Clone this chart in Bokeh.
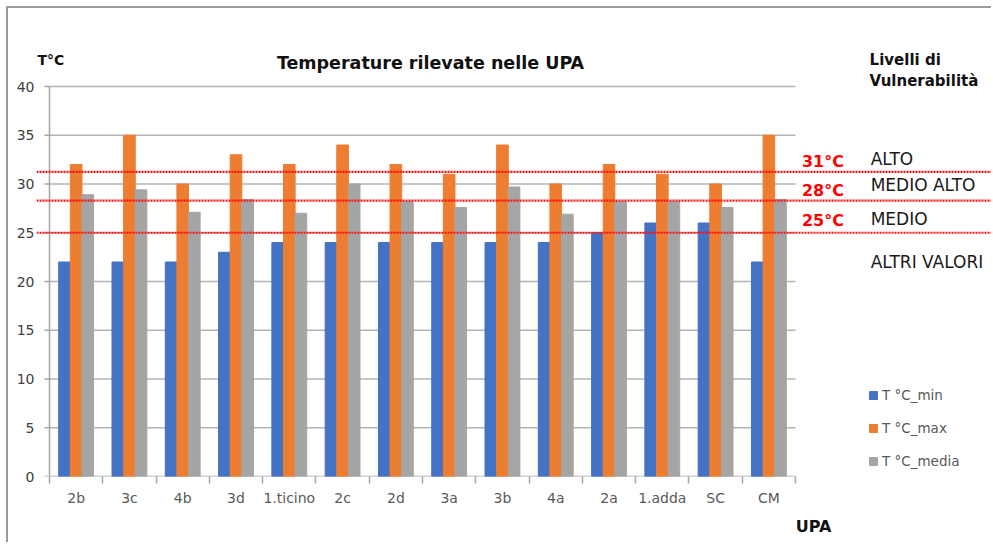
from bokeh.plotting import figure
from bokeh.models import (ColumnDataSource, Range1d, FixedTicker, Span, Label,
                          Legend, LegendItem, LinearAxis)
from bokeh.transform import dodge
from bokeh.embed import file_html
from bokeh.resources import INLINE

cats = ["2b", "3c", "4b", "3d", "1.ticino", "2c", "2d", "3a", "3b", "4a", "2a", "1.adda", "SC", "CM"]
t_min = [22, 22, 22, 23, 24, 24, 24, 24, 24, 24, 25, 26, 26, 22]
t_max = [32, 35, 30, 33, 32, 34, 32, 31, 34, 30, 32, 31, 30, 35]
t_media = [28.9, 29.4, 27.1, 28.4, 27.0, 30.0, 28.2, 27.6, 29.7, 26.9, 28.2, 28.2, 27.6, 28.4]
series_names = ["T °C_min", "T °C_max", "T °C_media"]
colors = ["#4472C4", "#ED7D31", "#A5A5A5"]
y_ticks = [0, 5, 10, 15, 20, 25, 30, 35, 40]
thr_values = [31.25, 28.3, 25.0]
thr_labels = ["31°C", "28°C", "25°C"]
levels = ["ALTO", "MEDIO ALTO", "MEDIO", "ALTRI VALORI"]

n = len(cats)
xs = [i + 1 for i in range(n)]
bounds = [i + 0.5 for i in range(n + 1)]

src = ColumnDataSource(dict(x=xs, tmin=t_min, tmax=t_max, tmed=t_media))

# canvas 985x536 placed at (8, 8) inside a bordered box
p = figure(width=985, height=536, output_backend="svg", toolbar_location=None, title=None,
           x_range=Range1d(0.2561, 18.215), y_range=Range1d(0, 48.0),
           min_border_left=28, min_border_right=0, min_border_top=0, min_border_bottom=68)
p.styles = {"border-left": "2px solid #9a9a9a", "border-top": "2px solid #9a9a9a",
            "margin-left": "6px", "margin-top": "6px"}
p.outline_line_color = None
p.xgrid.visible = False
p.ygrid.visible = False

grey_txt = "#595959"
font = "DejaVu Sans"
axis_col = "#a6a6a6"
tick_len = 5 / 53.29

# grid lines limited to the category area
p.segment(x0=[bounds[0]] * (len(y_ticks) - 1), x1=[bounds[-1]] * (len(y_ticks) - 1),
          y0=y_ticks[1:], y1=y_ticks[1:], line_color="#b4b4b4", line_width=1.5)
# axis lines and y tick marks
p.segment(x0=[bounds[0]], x1=[bounds[-1]], y0=[y_ticks[0]], y1=[y_ticks[0]],
          line_color=axis_col, line_width=1.5)
p.segment(x0=[bounds[0]], x1=[bounds[0]], y0=[y_ticks[0]], y1=[y_ticks[-1]],
          line_color=axis_col, line_width=1.5)
p.segment(x0=[bounds[0] - tick_len] * len(y_ticks), x1=[bounds[0]] * len(y_ticks),
          y0=y_ticks, y1=y_ticks, line_color=axis_col, line_width=1.5)

w = 0.218
r1 = p.vbar(x=dodge("x", -w, range=p.x_range), top="tmin", width=w, source=src, color=colors[0])
r2 = p.vbar(x=dodge("x", 0, range=p.x_range), top="tmax", width=w, source=src, color=colors[1])
r3 = p.vbar(x=dodge("x", w, range=p.x_range), top="tmed", width=w, source=src, color=colors[2])

# x axis (categories)
xa = p.xaxis[0]
xa.ticker = FixedTicker(ticks=xs, minor_ticks=bounds)
xa.major_label_overrides = {x: c for x, c in zip(xs, cats)}
xa.axis_line_color = None
xa.major_tick_line_color = None
xa.major_tick_out = 0
xa.minor_tick_line_color = axis_col
xa.minor_tick_line_width = 1.5
xa.minor_tick_out = 7
xa.minor_tick_in = 0
xa.major_label_text_font = font
xa.major_label_text_font_size = "14px"
xa.major_label_text_color = grey_txt
xa.major_label_standoff = 6

# second axis carrying the "UPA" title
upa = LinearAxis(ticker=FixedTicker(ticks=[14.84]), major_label_overrides={14.84: "UPA"},
                 axis_line_color=None, major_tick_line_color=None, minor_tick_line_color=None,
                 major_tick_out=0, major_label_standoff=8, major_label_text_font=font,
                 major_label_text_font_style="bold", major_label_text_font_size="16px",
                 major_label_text_color="#111111")
p.add_layout(upa, "below")

ya = p.yaxis[0]
ya.ticker = FixedTicker(ticks=y_ticks)
ya.axis_line_color = None
ya.major_tick_line_color = None
ya.major_tick_out = 0
ya.major_tick_in = 0
ya.minor_tick_line_color = None
ya.major_label_text_font = font
ya.major_label_text_font_size = "14px"
ya.major_label_text_color = "#404040"
ya.major_label_standoff = 2

# threshold lines
for v in thr_values:
    p.add_layout(Span(location=v, dimension="width", line_color="#ff1010",
                      line_dash="2 1", line_width=2.2))
for t, ly in zip(thr_labels, [32.3, 29.33, 26.26]):
    p.add_layout(Label(x=14.62, y=ly, text=t, text_color="#ff0000", text_font=font,
                       text_font_style="bold", text_font_size="16px", text_baseline="middle"))
for lv, ly in zip(levels, [32.6, 29.85, 26.46, 21.95]):
    p.add_layout(Label(x=15.91, y=ly, text=lv, text_color="#1a1a1a", text_font=font,
                       text_font_size="17px", text_baseline="middle"))

# texts
p.add_layout(Label(x=7.65, y=42.46, text="Temperature rilevate nelle UPA", text_font=font,
                   text_font_style="bold", text_font_size="17.5px", text_align="center",
                   text_baseline="middle", text_color="#111111"))
p.add_layout(Label(x=0.275, y=42.67, text="T°C", text_font=font, text_font_style="bold",
                   text_font_size="14px", text_baseline="middle", text_color="#111111"))
p.add_layout(Label(x=15.89, y=42.67, text="Livelli di", text_font=font, text_font_style="bold",
                   text_font_size="15px", text_baseline="middle", text_color="#111111"))
p.add_layout(Label(x=15.89, y=40.6, text="Vulnerabilità", text_font=font, text_font_style="bold",
                   text_font_size="15px", text_baseline="middle", text_color="#111111"))

legend = Legend(items=[LegendItem(label=series_names[0], renderers=[r1]),
                       LegendItem(label=series_names[1], renderers=[r2]),
                       LegendItem(label=series_names[2], renderers=[r3])],
                location=(832, 5), orientation="vertical", padding=0, margin=0,
                spacing=13, glyph_width=10, glyph_height=10, label_height=20,
                label_standoff=4, border_line_color=None, background_fill_alpha=0,
                label_text_font=font, label_text_font_size="13.5px", label_text_color=grey_txt)
p.add_layout(legend)

open("out.html", "w").write(file_html(p, INLINE))
